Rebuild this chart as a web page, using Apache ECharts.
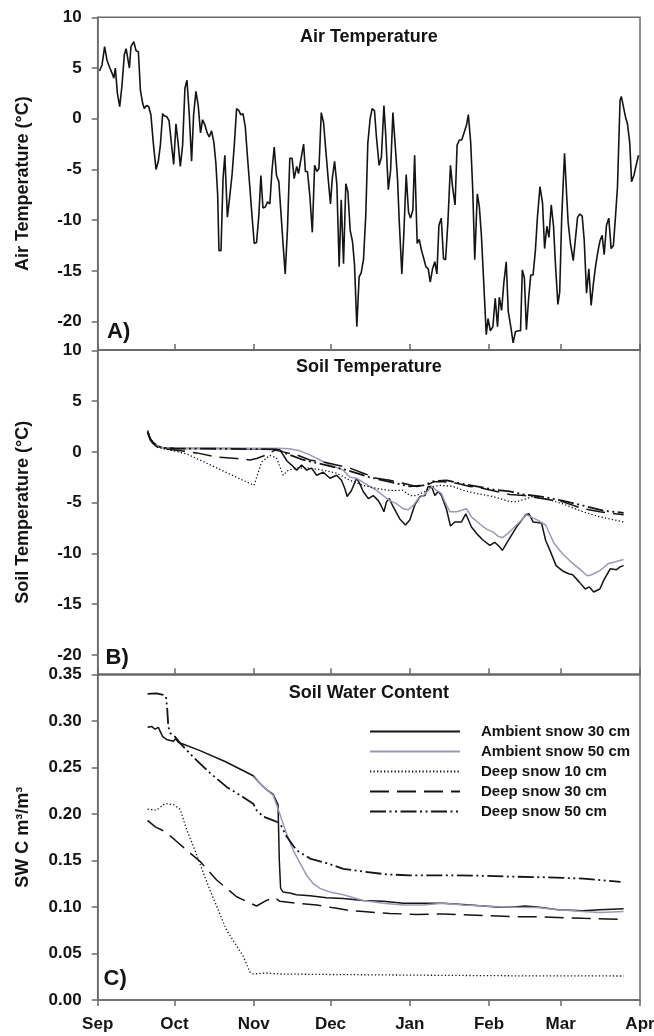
<!DOCTYPE html>
<html>
<head>
<meta charset="utf-8">
<script src="https://cdn.jsdelivr.net/npm/echarts@6/dist/echarts.min.js"></script>
<style>
  html, body { margin: 0; padding: 0; background: #fff; }
  #chart { width: 654px; height: 1036px; }
</style>
</head>
<body>
<div id="chart"></div>
<script>
// x = days since 1 Sep
var monthDays = [0, 30, 61, 91, 122, 153, 181, 212];
var monthNames = ['Sep', 'Oct', 'Nov', 'Dec', 'Jan', 'Feb', 'Mar', 'Apr'];
var tempTicks = [-20, -15, -10, -5, 0, 5, 10];

var seriesNames = ['Ambient snow 30 cm', 'Ambient snow 50 cm', 'Deep snow 10 cm', 'Deep snow 30 cm', 'Deep snow 50 cm'];

// A) air temperature [day, °C]
var airTemp = [
  [0.7,4.7],[1.7,5.3],[2.7,7.1],[3.6,5.8],[4.6,5.1],[5.6,4.5],[6.3,4.0],[6.9,5.0],[7.7,2.5],[8.6,1.2],
  [9.5,3.3],[10.4,6.3],[11.1,6.9],[11.7,7.0],[12.4,5.0],[13.0,7.1],[14.1,7.6],[15.0,6.7],[15.9,6.6],[16.7,2.8],
  [17.6,1.5],[18.2,1.0],[19.1,1.3],[19.9,1.2],[20.8,0.4],[21.7,-2.3],[22.8,-5.0],[23.7,-4.2],[24.5,-2.6],[25.4,0.5],
  [26.0,0.3],[27.0,0.2],[27.9,-0.2],[28.8,-2.4],[29.7,-4.5],[30.6,-0.5],[31.4,-2.3],[32.3,-4.7],[33.2,-2.6],[34.1,3.0],
  [34.9,3.8],[35.8,0.4],[36.7,-4.2],[37.5,0.4],[38.4,2.7],[39.3,1.3],[40.2,-1.4],[41.0,-0.1],[41.9,-0.6],[42.8,-1.4],
  [43.6,-1.8],[44.5,-1.2],[45.4,-2.3],[46.2,-4.4],[46.9,-7.5],[47.4,-13.0],[48.2,-13.0],[49.0,-5.9],[49.7,-3.6],[50.7,-9.7],
  [51.6,-7.7],[52.5,-5.6],[53.4,-2.6],[54.3,1.0],[55.2,0.8],[55.9,0.4],[56.8,0.5],[57.7,-0.8],[58.5,-3.6],[59.4,-6.5],
  [60.3,-9.5],[61.2,-12.3],[62.1,-12.2],[63.0,-9.5],[63.8,-5.6],[64.6,-8.8],[65.5,-8.7],[66.4,-8.2],[67.3,-8.4],[68.1,-5.2],
  [69.0,-2.8],[69.9,-5.6],[70.8,-6.2],[71.7,-9.5],[72.5,-12.5],[73.3,-15.3],[74.2,-10.8],[75.1,-3.9],[76.0,-3.9],[76.8,-5.9],
  [77.8,-4.7],[78.5,-5.4],[79.5,-3.9],[80.5,-2.5],[81.2,-5.2],[82.0,-5.2],[82.9,-7.5],[83.9,-11.2],[84.8,-4.6],[85.7,-5.2],
  [86.5,-4.9],[87.4,0.6],[88.3,-0.4],[89.1,-2.9],[90.1,-5.9],[91.0,-8.4],[91.7,-5.9],[92.6,-4.2],[93.5,-6.5],[94.4,-14.6],
  [95.2,-8.0],[96.1,-14.3],[97.0,-6.4],[97.8,-7.2],[98.7,-11.0],[99.6,-12.1],[100.4,-14.4],[101.3,-20.5],[102.2,-15.6],[103.0,-15.2],
  [103.9,-13.9],[104.8,-9.5],[105.6,-2.4],[106.5,0.0],[107.3,1.0],[108.2,0.8],[108.9,-1.6],[110.0,-4.6],[110.9,-3.8],[111.9,1.3],
  [112.6,-1.6],[113.6,-7.0],[114.5,-5.1],[115.4,0.6],[116.3,-2.6],[117.2,-5.9],[117.9,-10.2],[118.9,-15.3],[119.7,-11.2],[120.6,-5.5],
  [121.5,-9.2],[122.3,-9.8],[123.2,-9.0],[123.9,-3.6],[124.9,-12.3],[125.7,-11.9],[126.6,-13.0],[127.5,-13.8],[128.3,-14.6],[129.2,-14.8],
  [130.0,-16.1],[130.9,-14.8],[131.8,-14.1],[132.6,-15.3],[133.4,-10.5],[134.3,-9.8],[135.2,-13.8],[136.0,-13.9],[136.9,-10.2],[137.9,-4.6],
  [138.8,-6.9],[139.7,-8.5],[140.5,-2.6],[141.4,-2.1],[142.3,-2.1],[143.2,-1.4],[144.2,-0.6],[144.9,0.4],[145.8,-2.3],[146.6,-6.9],
  [147.4,-13.9],[148.4,-7.4],[149.2,-8.7],[150.0,-11.5],[150.9,-16.1],[151.9,-21.3],[152.6,-19.7],[153.5,-20.9],[154.5,-20.5],[155.4,-17.7],
  [156.3,-20.5],[157.0,-17.6],[157.9,-18.9],[158.8,-16.1],[159.7,-14.1],[160.5,-19.0],[161.6,-20.7],[162.4,-22.1],[163.3,-21.0],[164.4,-20.9],
  [165.3,-20.9],[166.0,-14.9],[166.8,-15.7],[167.6,-20.8],[168.5,-17.6],[169.3,-15.4],[170.2,-15.4],[171.1,-13.0],[171.9,-9.7],[172.9,-6.7],
  [173.9,-8.3],[174.7,-12.8],[175.6,-10.6],[176.4,-11.7],[177.3,-8.5],[178.2,-10.6],[179.0,-14.6],[179.9,-18.3],[180.6,-17.1],[181.4,-9.7],
  [182.5,-3.4],[183.3,-7.4],[183.9,-10.2],[184.8,-12.3],[185.9,-14.0],[186.7,-12.0],[187.6,-9.7],[188.5,-9.4],[189.4,-9.6],[190.2,-12.0],
  [191.1,-17.2],[192.0,-14.8],[192.9,-18.4],[193.8,-16.2],[194.7,-14.4],[195.6,-13.0],[196.4,-12.0],[197.2,-11.5],[198.0,-13.4],[198.9,-10.5],
  [199.8,-9.8],[200.7,-12.8],[201.6,-12.5],[202.4,-9.7],[203.2,-6.7],[204.2,1.8],[204.7,2.2],[205.4,2.3],[206.3,0.2],[207.1,-0.5],
  [208.0,-2.4],[208.7,-6.2],[209.6,-5.6],[210.3,-5.5],[211.4,-3.6]
];

// B) soil temperature [day, °C]
var soilAmb30 = [
  [19.5,2.1],[20.5,1.3],[21.7,0.9],[23.5,0.55],[25.6,0.4],[30,0.33],[40,0.32],[50,0.32],[60,0.3],[70,0.28],
  [71.2,0.2],[72.5,-0.3],[74,-0.9],[75.8,-1.3],[77.8,-1.8],[79.7,-1.3],[81.7,-1.8],[83.6,-1.6],[85.6,-2.3],[88.2,-2.0],
  [90.8,-2.6],[93.4,-2.3],[95.3,-2.8],[96.6,-3.6],[97.5,-4.4],[99.2,-3.8],[101.2,-2.6],[102.2,-3.0],[103.8,-3.9],[105.8,-4.6],
  [107.7,-4.3],[109.7,-4.8],[111.0,-5.4],[111.9,-5.9],[112.9,-4.9],[114.0,-4.6],[115.5,-5.4],[118.1,-6.6],[120.3,-7.2],[122.0,-6.7],
  [124.0,-5.2],[126.0,-4.4],[127.9,-4.3],[129.2,-3.4],[130.5,-3.4],[131.8,-4.3],[133.1,-3.9],[134.4,-4.3],[136.4,-5.7],[137.9,-7.3],
  [139.6,-6.9],[142.2,-6.9],[143.9,-6.1],[146.1,-7.4],[148.7,-8.2],[150.7,-8.7],[153.3,-9.2],[155.2,-8.9],[156.9,-9.3],[158.2,-9.7],
  [159.8,-9.0],[163.7,-7.4],[167.3,-6.2],[168.6,-6.1],[170.2,-6.9],[173.5,-7.0],[175.1,-8.7],[176.8,-9.7],[179.2,-11.2],[181.6,-11.7],
  [184.1,-12.0],[185.7,-12.1],[188.2,-12.8],[190.6,-13.5],[192.2,-13.3],[193.9,-13.8],[196.3,-13.5],[197.9,-12.6],[200.4,-11.5],[202.8,-11.6],
  [204.4,-11.3],[205.6,-11.2]
];
var soilAmb50 = [
  [19.5,2.0],[20.5,1.3],[21.7,0.9],[23.5,0.55],[25.6,0.4],[30,0.35],[50,0.35],[70,0.35],[75,0.3],[78.9,0.1],
  [82.9,-0.3],[86.9,-0.8],[90.8,-1.3],[96.0,-1.8],[98.6,-2.5],[101.2,-2.6],[103.8,-3.0],[106.4,-3.4],[109.0,-3.8],[111.6,-4.3],
  [114.2,-4.8],[116.8,-5.1],[119.4,-5.6],[121.4,-5.7],[123.3,-5.3],[125.3,-4.6],[127.3,-4.3],[129.2,-3.8],[130.5,-3.4],[132.5,-3.8],
  [134.4,-4.1],[135.7,-4.9],[137.7,-5.9],[140.3,-5.9],[142.9,-5.7],[144.2,-5.6],[146.1,-6.4],[149.4,-7.1],[152.0,-7.6],[154.6,-7.9],
  [156.5,-8.3],[158.3,-8.45],[160.5,-8.0],[163.7,-7.2],[167.7,-6.2],[171.8,-6.7],[175.1,-7.2],[178.4,-9.0],[181.6,-10.0],[184.9,-10.8],
  [188.2,-11.5],[191.4,-12.2],[193.1,-12.1],[196.3,-11.7],[199.6,-11.0],[202.8,-10.8],[205.6,-10.6]
];
var soilDeep10 = [
  [19.5,1.9],[20.5,1.2],[21.7,0.8],[23.5,0.45],[25.6,0.3],[28,0.2],[34.8,-0.2],[61.1,-3.3],[64.1,-1.0],[67.3,-0.35],
  [69.9,-0.6],[72.5,-2.3],[74.5,-1.8],[77.8,-1.6],[82.9,-1.6],[88.2,-1.8],[93.4,-2.1],[98.6,-2.8],[103.8,-3.3],[109.0,-3.6],
  [114.2,-3.8],[119.4,-3.8],[122.0,-4.3],[124.6,-4.3],[127.9,-3.9],[129.9,-3.5],[133.8,-3.3],[139.0,-3.4],[143.0,-3.8],[148.1,-4.1],
  [154.6,-4.4],[161.1,-4.9],[163.7,-4.9],[170.2,-4.4],[175.1,-4.6],[181.6,-5.1],[189.8,-5.9],[196.3,-6.4],[205.6,-6.9]
];
var soilDeep30 = [
  [19.5,1.9],[20.5,1.2],[21.7,0.8],[23.5,0.45],[25.6,0.3],[30.9,0.16],[38.7,-0.1],[46.5,-0.5],[54.3,-0.65],[59.5,-0.8],
  [62.1,-0.65],[66.0,-0.3],[69.3,0.17],[72.5,0.0],[77.8,-0.3],[82.9,-0.8],[88.2,-1.0],[93.4,-1.3],[98.6,-1.6],[103.8,-2.1],
  [109.0,-2.6],[114.2,-2.8],[119.4,-3.1],[124.6,-3.4],[128.5,-3.3],[131.2,-2.95],[135.1,-2.95],[140.3,-3.1],[145.5,-3.4],[150.7,-3.6],
  [155.9,-3.9],[161.1,-4.2],[166.7,-4.3],[173.5,-4.6],[181.6,-4.9],[189.8,-5.6],[196.3,-5.9],[205.6,-6.2]
];
var soilDeep50 = [
  [19.5,2.0],[20.5,1.3],[21.7,0.9],[23.5,0.55],[25.6,0.4],[30,0.33],[50,0.3],[69.9,0.25],[75.1,-0.3],[80.4,-0.8],
  [85.6,-1.1],[90.8,-1.4],[96.0,-1.7],[101.2,-2.1],[106.4,-2.5],[111.6,-2.8],[116.8,-3.1],[122.0,-3.4],[127.3,-3.3],[131.2,-2.9],
  [136.4,-2.8],[141.5,-3.1],[148.1,-3.4],[154.6,-3.7],[161.1,-3.9],[166.7,-4.2],[173.5,-4.4],[181.6,-4.8],[189.8,-5.3],[197.9,-5.8],
  [205.6,-6.0]
];

// C) soil water content [day, m3/m3]
var swcAmb30 = [
  [19.5,0.293],[21.1,0.294],[22.4,0.291],[23.7,0.293],[24.3,0.291],[25.4,0.283],[26.9,0.280],[29.6,0.278],[30.5,0.281],[31.5,0.277],
  [40,0.268],[50,0.256],[60.8,0.241],[63,0.234],[66,0.226],[68.6,0.221],[70.5,0.21],[71.0,0.15],[71.5,0.12],[72.5,0.116],
  [75.1,0.115],[77.7,0.113],[83.0,0.112],[89.5,0.110],[96.0,0.109],[103.8,0.107],[111.6,0.106],[119.4,0.104],[127.2,0.104],[135.1,0.104],
  [145.5,0.102],[155.9,0.100],[163.1,0.100],[167.0,0.101],[171.9,0.100],[180.0,0.097],[189.8,0.096],[196.3,0.097],[205.6,0.098]
];
var swcAmb50 = [
  [60.8,0.240],[63,0.234],[66,0.226],[68.6,0.220],[71.2,0.200],[73.8,0.179],[76.4,0.161],[79.1,0.147],[81.7,0.134],[84.3,0.125],
  [86.9,0.120],[90.8,0.116],[96.0,0.113],[103.8,0.107],[111.6,0.104],[119.4,0.102],[127.2,0.102],[135.1,0.104],[142.9,0.102],[150.7,0.101],
  [163.1,0.0996],[171.9,0.0995],[180.0,0.097],[189.8,0.095],[196.3,0.094],[205.6,0.095]
];
var swcDeep10 = [
  [19.5,0.205],[23.0,0.204],[26.3,0.211],[29.6,0.210],[32.2,0.205],[34.8,0.183],[37.4,0.165],[43.9,0.118],[50.4,0.075],[56.9,0.047],
  [59.5,0.030],[60.8,0.028],[66.0,0.029],[69.9,0.028],[83.0,0.0276],[109.0,0.027],[135.1,0.0265],[163.1,0.026],[205.6,0.0258]
];
var swcDeep30 = [
  [19.5,0.193],[22.5,0.186],[26.3,0.181],[30.2,0.172],[34.8,0.161],[40.0,0.149],[46.5,0.129],[54.3,0.111],[62.1,0.101],[66.0,0.107],
  [69.3,0.110],[71.2,0.106],[77.7,0.104],[85.6,0.102],[93.4,0.0985],[98.6,0.096],[103.8,0.095],[114.2,0.093],[124.6,0.092],[135.1,0.0924],
  [145.5,0.0913],[163.1,0.0895],[173.5,0.0893],[189.8,0.0878],[205.6,0.0867]
];
var swcDeep50 = [
  [19.5,0.329],[23.0,0.3295],[25.6,0.328],[26.7,0.326],[27.2,0.312],[27.6,0.294],[28.3,0.287],[30.2,0.283],[32.2,0.276],[37.4,0.261],
  [43.9,0.244],[50.4,0.229],[56.9,0.218],[60.8,0.211],[62.1,0.204],[64.7,0.197],[68.6,0.193],[71.2,0.190],[73.8,0.176],[77.7,0.161],
  [83.0,0.152],[89.5,0.147],[96.0,0.141],[103.8,0.138],[112.9,0.135],[122.0,0.134],[135.1,0.134],[148.1,0.1336],[163.1,0.1325],[173.5,0.132],
  [189.8,0.1305],[204.4,0.127]
];

var FONT = "'Liberation Sans', Arial, sans-serif";
var INK = '#141414';
var AXIS = '#6a6a6a';

// line look per series name (same in B and C)
var styles = [
  { color: INK, width: 1.5, type: 'solid' },
  { color: '#9a9ab6', width: 1.5, type: 'solid' },
  { color: INK, width: 1.3, type: [1.3, 2.2] },
  { color: INK, width: 1.5, type: [19, 8] },
  { color: INK, width: 1.8, type: [16, 3.5, 2, 3.5, 2, 3.5] }
];

var grids = [
  { left: 97.7, width: 542.3, top: 17.3, height: 332.7 },
  { left: 97.7, width: 542.3, top: 350.3, height: 324 },
  { left: 97.7, width: 542.3, top: 674.3, height: 325.7 }
].map(function (g) {
  g.show = true; g.borderColor = AXIS; g.borderWidth = 1.5; g.outerBoundsMode = 'none';
  return g;
});

function xAxisFor(i) {
  var last = i === 2;
  return {
    type: 'value', gridIndex: i, min: 0, max: 212,
    splitLine: { show: false },
    axisLine: { onZero: false, lineStyle: { color: AXIS, width: 1.5 } },
    axisTick: { inside: !last, length: 6, customValues: monthDays, lineStyle: { color: AXIS, width: 1.5 } },
    axisLabel: {
      show: last, customValues: monthDays, margin: 16,
      fontFamily: FONT, fontWeight: 'bold', fontSize: 17, color: INK,
      formatter: function (v) { return monthNames[monthDays.indexOf(v)]; }
    }
  };
}

function yAxisFor(i, name, min, max) {
  var ax = {
    type: 'value', gridIndex: i, min: min, max: max,
    name: name, nameLocation: 'middle', nameGap: 66,
    nameTextStyle: { fontFamily: FONT, fontWeight: 'bold', fontSize: 18, color: INK },
    splitLine: { show: false },
    axisLine: { onZero: false, lineStyle: { color: AXIS, width: 1.5 } },
    axisTick: { length: 6, lineStyle: { color: AXIS, width: 1.5 } },
    axisLabel: { margin: 16, fontFamily: FONT, fontWeight: 'bold', fontSize: 17, color: INK }
  };
  if (i < 2) {
    ax.axisTick.customValues = tempTicks;
    ax.axisLabel.customValues = tempTicks;
  } else {
    ax.interval = 0.05;
    ax.axisLabel.formatter = function (v) { return v.toFixed(2); };
  }
  return ax;
}

function lineSeries(name, data, gi) {
  var s = styles[seriesNames.indexOf(name)];
  return {
    name: name, type: 'line', xAxisIndex: gi, yAxisIndex: gi, data: data,
    symbol: 'none', showSymbol: false, silent: true,
    lineStyle: { color: s.color, width: s.width, type: s.type },
    itemStyle: { color: s.color }
  };
}

function label(text, x, y, size, center) {
  return {
    text: text, left: x, top: y, padding: 0,
    textAlign: center ? 'center' : 'left', textVerticalAlign: 'middle',
    textStyle: { fontFamily: FONT, fontWeight: 'bold', fontSize: size, color: INK }
  };
}

var soilSets = [soilAmb30, soilAmb50, soilDeep10, soilDeep30, soilDeep50];
var swcSets = [swcAmb30, swcAmb50, swcDeep10, swcDeep30, swcDeep50];

var series = [{
  name: 'Air', type: 'line', xAxisIndex: 0, yAxisIndex: 0, data: airTemp,
  symbol: 'none', showSymbol: false, silent: true,
  lineStyle: { color: INK, width: 1.6 }
}];
seriesNames.forEach(function (n, k) { series.push(lineSeries(n, soilSets[k], 1)); });
seriesNames.forEach(function (n, k) { series.push(lineSeries(n, swcSets[k], 2)); });

var option = {
  animation: false,
  backgroundColor: '#fff',
  title: [
    label('Air Temperature', 368.8, 37.3, 18, true),
    label('Soil Temperature', 368.8, 366.7, 18, true),
    label('Soil Water Content', 368.8, 693.3, 18, true),
    label('A)', 107, 332, 22, false),
    label('B)', 105.5, 658.3, 22, false),
    label('C)', 103.5, 979, 22, false)
  ],
  legend: {
    data: seriesNames, orient: 'vertical', left: 369, top: 724,
    itemWidth: 90, itemHeight: 14, itemGap: 5, padding: 0,
    itemStyle: { opacity: 0 },
    textStyle: { fontFamily: FONT, fontWeight: 'bold', fontSize: 15, color: INK, padding: [0, 0, 0, 16] },
    selectedMode: false
  },
  grid: grids,
  xAxis: [xAxisFor(0), xAxisFor(1), xAxisFor(2)],
  yAxis: [
    yAxisFor(0, 'Air Temperature (°C)', -22.8, 10),
    yAxisFor(1, 'Soil Temperature (°C)', -21.9, 10),
    yAxisFor(2, 'SW C m³/m³', 0, 0.35)
  ],
  series: series
};

var chart = echarts.init(document.getElementById('chart'));
chart.setOption(option);
window.addEventListener('resize', function () { chart.resize(); });
</script>
</body>
</html>
